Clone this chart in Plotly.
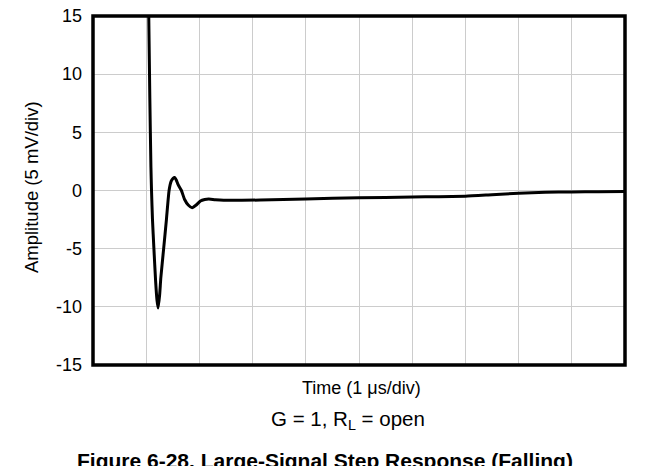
import plotly.graph_objects as go

# Time in µs (1 µs/div), amplitude in mV (5 mV/div)
time_us = [1.048, 1.068, 1.089, 1.100, 1.118, 1.145, 1.176, 1.202, 1.224, 1.252, 1.275,
           1.328, 1.38, 1.43, 1.47, 1.505, 1.535, 1.565, 1.60, 1.662, 1.72, 1.79, 1.863, 1.94,
           2.02, 2.10, 2.175, 2.30, 2.456, 3.146, 4.0, 5.0, 6.0, 6.5, 7.0, 7.5, 8.0,
           8.5, 9.0, 9.5, 10.0]
amplitude_mv = [15, 8, 2, 0, -2.5, -5.0, -7.7, -9.4, -10.1, -9.0, -7.5,
                -5.0, -2.5, 0, 0.8, 1.05, 1.12, 0.9, 0.5, 0, -0.75, -1.25, -1.48, -1.25,
                -0.9, -0.78, -0.74, -0.8, -0.84, -0.82, -0.72, -0.63, -0.56, -0.53, -0.49, -0.36, -0.23,
                -0.16, -0.12, -0.1, -0.08]

y_ticks = [-15, -10, -5, 0, 5, 10, 15]
y_tick_labels = ["-15", "-10", "-5", "0", "5", "10", "15"]

FONT = "Liberation Sans, Arial, sans-serif"

# page-pixel geometry of the plot region (browser body has an 8px margin)
BODY = 8
PL, PR, PT, PB = 92.5, 625, 16, 365
W, H = 658, 466
PW, PH = PR - PL, PB - PT


def px(xp):
    return (xp - PL) / PW


def py(yp):
    return (PB - yp) / PH


fig = go.Figure()
fig.add_trace(go.Scatter(
    x=time_us, y=amplitude_mv, mode="lines",
    line=dict(color="black", width=3, shape="spline", smoothing=0.5),
    showlegend=False, hoverinfo="skip",
))

fig.update_xaxes(range=[0, 10], dtick=1, showticklabels=False, showgrid=True,
                 gridcolor="#cccccc", gridwidth=1, zeroline=False, showline=False,
                 automargin=False)
fig.update_yaxes(range=[-15, 15], tickvals=y_ticks, ticktext=y_tick_labels, showgrid=True,
                 gridcolor="#cccccc", gridwidth=1, zeroline=False, showline=False,
                 tickfont=dict(family=FONT, size=18, color="black"),
                 ticks="", ticklabelstandoff=10, automargin=False,
                 ticklabeloverflow="allow")

# plot frame
fig.add_shape(type="rect", xref="x domain", yref="y domain", x0=0, x1=1, y0=0, y1=1,
              line=dict(color="black", width=3.5), layer="above")
# page border line at right
fig.add_shape(type="line", xref="paper", yref="paper", layer="above",
              x0=px(651), x1=px(651), y0=py(466), y1=py(0),
              line=dict(color="#555555", width=1.5))

annots = [
    dict(text="Amplitude (5 mV/div)", x=px(31), y=py(187.5), textangle=-90,
         font=dict(size=18.5)),
    dict(text="Time (1 μs/div)", x=px(361), y=py(388), font=dict(size=18)),
    dict(text="G = 1, R<sub>L</sub> = open", x=px(347.5), y=py(420), font=dict(size=20.5)),
    dict(text="<b>Figure 6-28. Large-Signal Step Response (Falling)</b>",
         x=px(325), y=py(460.5), font=dict(size=21)),
]
for a in annots:
    a["font"].update(family=FONT, color="black")
    fig.add_annotation(xref="paper", yref="paper", showarrow=False,
                       xanchor="center", yanchor="middle", **a)

fig.update_layout(
    width=W, height=H,
    margin=dict(l=PL - BODY, r=W - (PR - BODY), t=PT - BODY, b=H - (PB - BODY), pad=0),
    paper_bgcolor="white", plot_bgcolor="white",
    font=dict(family=FONT, color="black"),
)

fig.write_html("out.html")
